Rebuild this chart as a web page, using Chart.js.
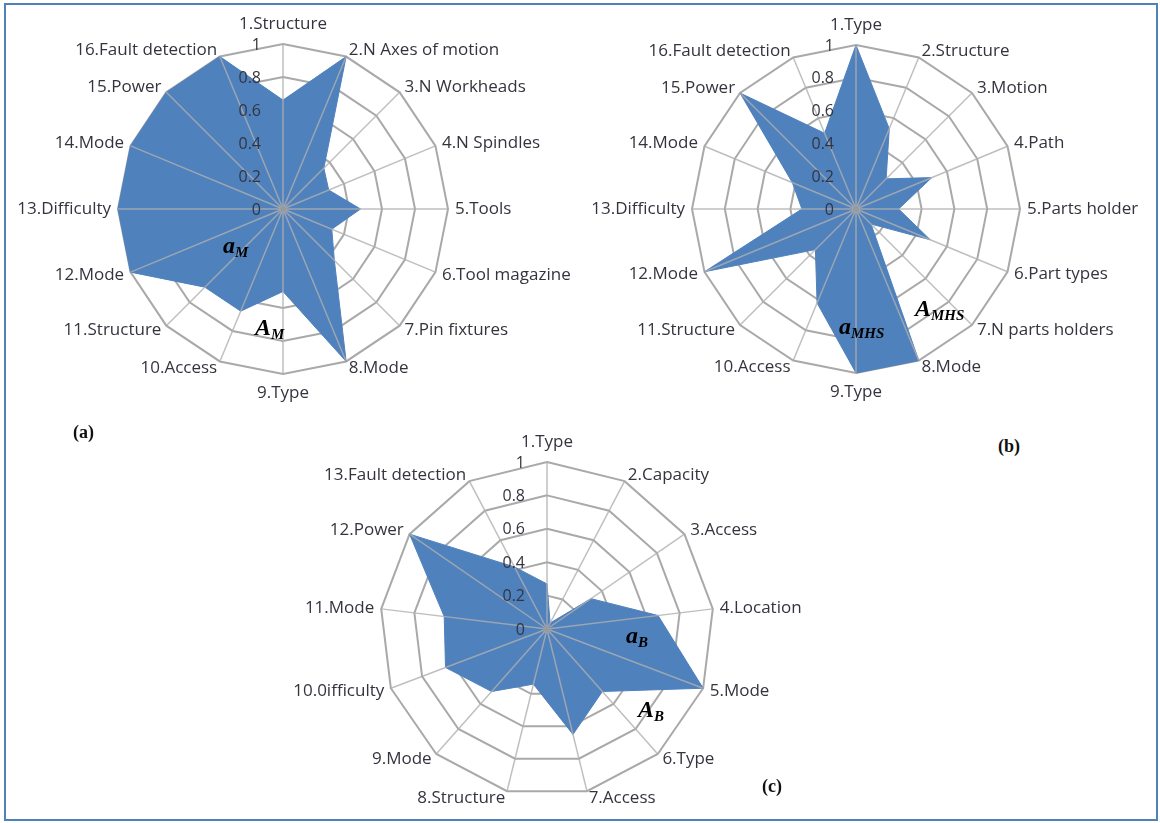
<!DOCTYPE html>
<html>
<head>
<meta charset="utf-8">
<script src="https://cdn.jsdelivr.net/npm/chart.js@4.4.1/dist/chart.umd.min.js"></script>
<style>
  html, body { margin: 0; padding: 0; background: #fff; }
  #frame { position: absolute; left: 4px; top: 3px; width: 1150px; height: 814px; border: 2px solid #4f81bd; }
  canvas { position: absolute; }
  .tag { position: absolute; font-family: 'Liberation Serif', serif; font-weight: bold; font-size: 18px; color: #111; }
  .ann { position: absolute; font-family: 'Liberation Serif', serif; font-weight: bold; font-style: italic; font-size: 24px; color: #000; white-space: nowrap; }
  .ann sub { font-size: 15px; vertical-align: -4px; }
</style>
</head>
<body>
<div id="frame"></div>
<canvas id="chartA" width="580" height="430" style="left:0px;top:0px"></canvas>
<canvas id="chartB" width="580" height="430" style="left:580px;top:0px"></canvas>
<canvas id="chartC" width="560" height="398" style="left:270px;top:425px"></canvas>

<div class="tag" style="left:73px;top:422px">(a)</div>
<div class="tag" style="left:998px;top:436px">(b)</div>
<div class="tag" style="left:762px;top:776px">(c)</div>

<div class="ann" style="left:223px;top:232px">a<sub>M</sub></div>
<div class="ann" style="left:255px;top:314px">A<sub>M</sub></div>
<div class="ann" style="left:915px;top:295px">A<sub>MHS</sub></div>
<div class="ann" style="left:839px;top:313px">a<sub>MHS</sub></div>
<div class="ann" style="left:626px;top:622px">a<sub>B</sub></div>
<div class="ann" style="left:638px;top:696px">A<sub>B</sub></div>

<script>
const FONT = "'Open Sans', Lato, sans-serif";
const FILL = '#4f81bd';
const GRID = '#a9a9a9';
const TEXT = '#34343f';

// (a) machine
const machineLabels = ['1.Structure', '2.N Axes of motion', '3.N Workheads', '4.N Spindles', '5.Tools',
  '6.Tool magazine', '7.Pin fixtures', '8.Mode', '9.Type', '10.Access', '11.Structure', '12.Mode',
  '13.Difficulty', '14.Mode', '15.Power', '16.Fault detection'];
const machineValues = [0.66, 1, 0.35, 0.3, 0.47, 0.32, 0.44, 1, 0.5, 0.67, 0.67, 1, 1, 1, 1, 1];

// (b) material handling system
const mhsLabels = ['1.Type', '2.Structure', '3.Motion', '4.Path', '5.Parts holder', '6.Part types',
  '7.N parts holders', '8.Mode', '9.Type', '10.Access', '11.Structure', '12.Mode', '13.Difficulty',
  '14.Mode', '15.Power', '16.Fault detection'];
const mhsValues = [1, 0.53, 0.26, 0.5, 0.26, 0.49, 0.13, 1, 1, 0.62, 0.35, 1, 0.33, 0.42, 1, 0.5];

// (c) buffer
const bufferLabels = ['1.Type', '2.Capacity', '3.Access', '4.Location', '5.Mode', '6.Type', '7.Access',
  '8.Structure', '9.Mode', '10.0ifficulty', '11.Mode', '12.Power', '13.Fault detection'];
const bufferValues = [0.27, 0.04, 0.32, 0.67, 1, 0.5, 0.65, 0.34, 0.5, 0.65, 0.62, 1, 0.42];

const scaleMin = 0;
const scaleMax = 1;
const scaleStep = 0.2;

// excel-like overlay: spokes over the fill, category labels centred beside
// each spoke end, value labels left of the first spoke, centre dot
const overlay = {
  id: 'overlay',
  afterDatasetsDraw(chart) {
    const s = chart.scales.r;
    const ctx = chart.ctx;
    const labels = chart.data.labels;
    ctx.save();
    ctx.strokeStyle = 'rgba(175,175,175,0.8)';
    ctx.lineWidth = 1.5;
    for (let i = 0; i < labels.length; i++) {
      const p = s.getPointPosition(i, s.drawingArea);
      ctx.beginPath();
      ctx.moveTo(s.xCenter, s.yCenter);
      ctx.lineTo(p.x, p.y);
      ctx.stroke();
    }
    ctx.fillStyle = '#9a9a9a';
    ctx.beginPath();
    ctx.arc(s.xCenter, s.yCenter, 3, 0, Math.PI * 2);
    ctx.fill();

    ctx.fillStyle = TEXT;
    ctx.font = `17px ${FONT}`;
    for (let i = 0; i < labels.length; i++) {
      const deg = Math.round(s.getIndexAngle(i) * 180 / Math.PI) % 360;
      const vertical = deg === 0 || deg === 180;
      const p = s.getPointPosition(i, s.drawingArea + (vertical ? 11 : 7));
      ctx.textAlign = vertical ? 'center' : deg < 180 ? 'left' : 'right';
      ctx.textBaseline = deg === 0 ? 'bottom' : deg === 180 ? 'top' : 'middle';
      ctx.fillText(labels[i], p.x, p.y);
    }

    ctx.font = `16px ${FONT}`;
    ctx.textAlign = 'right';
    ctx.textBaseline = 'middle';
    s.ticks.forEach((t) => {
      const y = s.yCenter - s.getDistanceFromCenterForValue(t.value);
      ctx.fillText(t.label, s.xCenter - 22, y + 1);
    });
    ctx.restore();
  },
};

function makeRadar(id, labels, values, cx, cy, radius) {
  return new Chart(document.getElementById(id), {
    type: 'radar',
    data: {
      labels,
      datasets: [{
        data: values,
        backgroundColor: FILL,
        borderColor: FILL,
        borderWidth: 1,
        fill: true,
        pointRadius: 0,
      }],
    },
    options: {
      responsive: false,
      animation: false,
      devicePixelRatio: 1,
      layout: { padding: 0 },
      plugins: { legend: { display: false }, tooltip: { enabled: false } },
      scales: {
        r: {
          min: scaleMin,
          max: scaleMax,
          ticks: { stepSize: scaleStep, display: false, callback: (v) => String(+v.toFixed(1)) },
          grid: { color: GRID, lineWidth: 2 },
          angleLines: { display: false },
          pointLabels: { display: false },
          afterSetDimensions: (scale) => {
            scale.xCenter = cx;
            scale.yCenter = cy;
            scale.drawingArea = radius;
          },
        },
      },
    },
    plugins: [overlay],
  });
}

makeRadar('chartA', machineLabels, machineValues, 283, 209, 165);
makeRadar('chartB', mhsLabels, mhsValues, 276, 209, 164);
makeRadar('chartC', bufferLabels, bufferValues, 277, 204, 167);
</script>
</body>
</html>
